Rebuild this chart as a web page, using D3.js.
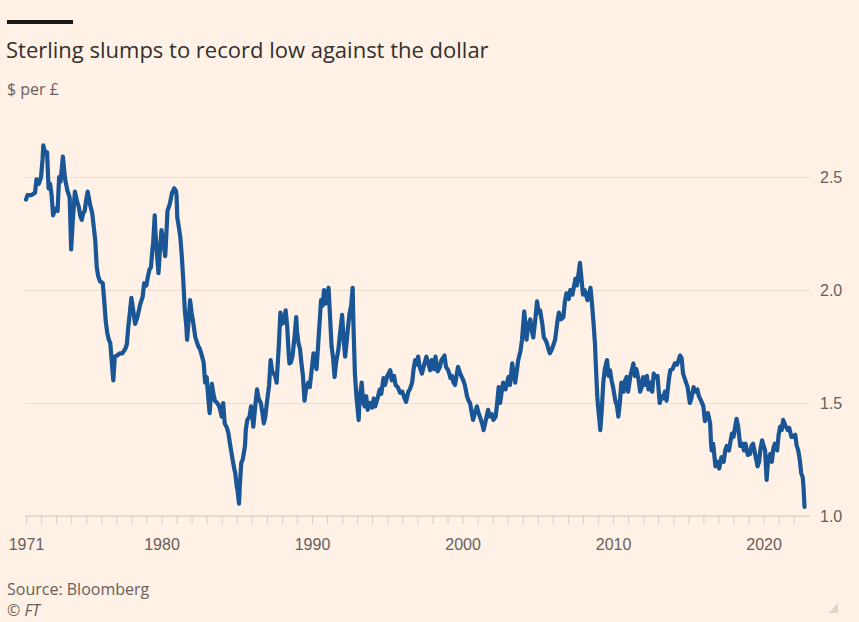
<!DOCTYPE html>
<html lang="en">
<head>
<meta charset="UTF-8">
<title>Sterling slumps to record low against the dollar</title>
<script src="https://cdnjs.cloudflare.com/ajax/libs/d3/7.8.5/d3.min.js"></script>
<style>
  html, body { margin: 0; padding: 0; background: #fff1e5; }
  svg { display: block; font-family: "Open Sans", "Noto Sans", sans-serif; }
  .tick-label { fill: #66605c; font-size: 16px; }
  .grid line { stroke: #eadccf; stroke-width: 1px; }
</style>
</head>
<body>
<svg id="chart" width="859" height="622"></svg>
<script>
// $ per £: [decimal year, rate]
const rates1970s = [
  [1971.0,2.40],[1971.1,2.42],[1971.35,2.42],[1971.6,2.43],[1971.7,2.49],[1971.85,2.47],[1972.0,2.50],
  [1972.1,2.58],[1972.15,2.64],[1972.3,2.60],[1972.4,2.61],[1972.5,2.45],[1972.6,2.47],[1972.7,2.42],
  [1972.8,2.33],[1972.95,2.36],[1973.1,2.35],[1973.2,2.50],[1973.3,2.48],[1973.45,2.59],[1973.55,2.52],
  [1973.6,2.49],[1973.75,2.44],[1973.9,2.41],[1974.0,2.18],[1974.1,2.30],[1974.25,2.435],[1974.4,2.39],
  [1974.5,2.37],[1974.6,2.33],[1974.7,2.31],[1974.8,2.34],[1974.9,2.35],[1975.0,2.40],[1975.1,2.435],
  [1975.25,2.38],[1975.4,2.34],[1975.5,2.28],[1975.6,2.22],[1975.7,2.10],[1975.8,2.06],[1975.9,2.04],
  [1976.1,2.03],[1976.2,1.95],[1976.3,1.86],[1976.4,1.81],[1976.5,1.78],[1976.6,1.765],[1976.7,1.68],
  [1976.8,1.60],[1976.9,1.705],[1977.05,1.71],[1977.25,1.72],[1977.4,1.72],[1977.6,1.74],[1977.7,1.76],
  [1977.8,1.84],[1977.9,1.90],[1978.0,1.965],[1978.1,1.92],[1978.25,1.85],[1978.4,1.88],[1978.6,1.94],
  [1978.75,1.97],[1978.85,2.03],[1979.0,2.02],[1979.1,2.06],[1979.2,2.09],[1979.3,2.10],[1979.4,2.18],
  [1979.45,2.21],[1979.55,2.33],[1979.6,2.25],[1979.7,2.16],[1979.8,2.075],[1979.9,2.18],[1980.0,2.265],
  [1980.1,2.22],[1980.25,2.15],[1980.35,2.28],[1980.4,2.35],[1980.55,2.38],[1980.7,2.43],[1980.85,2.45],
  [1980.95,2.44]
];
const rates1980s = [
  [1981.0,2.42],[1981.05,2.32],[1981.15,2.28],[1981.25,2.235],[1981.35,2.15],[1981.45,2.04],[1981.55,1.91],
  [1981.65,1.84],[1981.7,1.78],[1981.8,1.86],[1981.9,1.955],[1982.0,1.90],[1982.1,1.86],[1982.25,1.79],
  [1982.35,1.77],[1982.45,1.75],[1982.55,1.74],[1982.7,1.705],[1982.8,1.68],[1982.9,1.59],[1983.0,1.615],
  [1983.1,1.53],[1983.2,1.455],[1983.3,1.55],[1983.35,1.585],[1983.45,1.54],[1983.55,1.51],[1983.7,1.50],
  [1983.8,1.49],[1983.9,1.47],[1984.0,1.44],[1984.1,1.50],[1984.2,1.41],[1984.35,1.39],[1984.45,1.365],
  [1984.55,1.32],[1984.65,1.28],[1984.8,1.22],[1984.9,1.19],[1985.0,1.13],[1985.05,1.115],[1985.15,1.055],
  [1985.2,1.13],[1985.3,1.235],[1985.4,1.25],[1985.55,1.31],[1985.6,1.38],[1985.7,1.425],[1985.85,1.44],
  [1985.95,1.485],[1986.05,1.43],[1986.1,1.395],[1986.25,1.50],[1986.35,1.56],[1986.45,1.52],[1986.6,1.50],
  [1986.7,1.46],[1986.8,1.41],[1986.9,1.44],[1987.0,1.50],[1987.15,1.58],[1987.25,1.69],[1987.35,1.64],
  [1987.45,1.63],[1987.55,1.62],[1987.65,1.59],[1987.8,1.76],[1987.9,1.90],[1988.0,1.85],[1988.1,1.855],
  [1988.25,1.91],[1988.35,1.84],[1988.45,1.72],[1988.5,1.675],[1988.6,1.68],[1988.7,1.705],[1988.85,1.80],
  [1988.95,1.88],[1989.0,1.82],[1989.1,1.765],[1989.2,1.74],[1989.3,1.675],[1989.4,1.62],[1989.5,1.51],
  [1989.6,1.56],[1989.75,1.59],[1989.85,1.57],[1989.95,1.63],[1990.1,1.72],[1990.2,1.68],[1990.3,1.65],
  [1990.45,1.80],[1990.6,1.955],[1990.7,1.93],[1990.8,2.00],[1990.9,1.94],[1991.0,1.97],[1991.1,2.01]
];
const rates1990s = [
  [1991.2,1.88],[1991.3,1.75],[1991.4,1.70],[1991.5,1.615],[1991.6,1.68],[1991.75,1.735],[1991.85,1.80],
  [1992.0,1.89],[1992.1,1.78],[1992.2,1.705],[1992.3,1.77],[1992.4,1.84],[1992.5,1.90],[1992.6,1.93],
  [1992.7,2.01],[1992.75,1.85],[1992.85,1.63],[1992.95,1.53],[1993.1,1.425],[1993.15,1.51],[1993.3,1.59],
  [1993.4,1.50],[1993.5,1.485],[1993.6,1.53],[1993.7,1.47],[1993.85,1.50],[1994.0,1.48],[1994.1,1.52],
  [1994.2,1.485],[1994.35,1.52],[1994.5,1.56],[1994.6,1.54],[1994.75,1.61],[1994.85,1.58],[1995.0,1.62],
  [1995.2,1.645],[1995.3,1.60],[1995.45,1.62],[1995.55,1.58],[1995.7,1.57],[1995.85,1.545],[1996.0,1.55],
  [1996.15,1.52],[1996.25,1.505],[1996.4,1.55],[1996.5,1.56],[1996.65,1.59],[1996.75,1.65],[1996.85,1.69],
  [1996.95,1.67],[1997.05,1.705],[1997.15,1.66],[1997.3,1.63],[1997.45,1.67],[1997.6,1.705],[1997.7,1.68],
  [1997.85,1.645],[1997.95,1.69],[1998.1,1.65],[1998.2,1.705],[1998.35,1.64],[1998.5,1.66],[1998.6,1.69],
  [1998.8,1.71],[1998.9,1.66],[1999.05,1.645],[1999.2,1.61],[1999.3,1.62],[1999.4,1.59],[1999.5,1.58],
  [1999.6,1.62],[1999.7,1.66],[1999.85,1.63],[2000.05,1.60],[2000.15,1.58],[2000.3,1.53],[2000.4,1.51],
  [2000.5,1.50]
];
const rates2000s = [
  [2000.6,1.46],[2000.7,1.425],[2000.8,1.45],[2000.95,1.485],[2001.05,1.46],[2001.15,1.44],[2001.3,1.41],
  [2001.4,1.38],[2001.5,1.41],[2001.6,1.44],[2001.7,1.47],[2001.8,1.44],[2001.95,1.45],[2002.05,1.425],
  [2002.2,1.44],[2002.3,1.50],[2002.4,1.57],[2002.5,1.50],[2002.6,1.55],[2002.7,1.59],[2002.85,1.56],
  [2003.05,1.615],[2003.15,1.58],[2003.3,1.675],[2003.4,1.62],[2003.5,1.59],[2003.6,1.64],[2003.7,1.69],
  [2003.85,1.73],[2003.95,1.78],[2004.1,1.905],[2004.2,1.83],[2004.25,1.78],[2004.35,1.84],[2004.5,1.87],
  [2004.6,1.82],[2004.7,1.79],[2004.85,1.88],[2004.95,1.95],[2005.05,1.90],[2005.15,1.91],[2005.3,1.85],
  [2005.4,1.79],[2005.5,1.78],[2005.6,1.765],[2005.7,1.74],[2005.8,1.72],[2005.95,1.74],[2006.15,1.78],
  [2006.3,1.86],[2006.4,1.90],[2006.55,1.87],[2006.7,1.88],[2006.8,1.95],[2006.9,1.985],[2007.05,1.96],
  [2007.15,2.00],[2007.3,1.98],[2007.5,2.05],[2007.6,2.02],[2007.7,2.07],[2007.8,2.12],[2007.9,2.05],
  [2008.0,1.98],[2008.1,2.00],[2008.2,1.98],[2008.3,1.955],[2008.4,1.98],[2008.5,2.01],[2008.6,1.94],
  [2008.7,1.855],[2008.8,1.76],[2008.85,1.675],[2008.95,1.53],[2009.0,1.485],[2009.1,1.42],[2009.15,1.38],
  [2009.25,1.47],[2009.35,1.59],[2009.45,1.65],[2009.6,1.69],[2009.7,1.62],[2009.8,1.645],[2009.9,1.60]
];
const rates2010s = [
  [2010.0,1.57],[2010.15,1.51],[2010.25,1.49],[2010.35,1.44],[2010.45,1.50],[2010.55,1.59],[2010.7,1.55],
  [2010.8,1.60],[2010.9,1.615],[2011.0,1.55],[2011.15,1.62],[2011.35,1.675],[2011.45,1.62],[2011.55,1.65],
  [2011.7,1.60],[2011.8,1.55],[2011.9,1.57],[2012.0,1.615],[2012.1,1.58],[2012.25,1.62],[2012.35,1.56],
  [2012.45,1.59],[2012.6,1.55],[2012.7,1.63],[2012.8,1.615],[2012.95,1.62],[2013.1,1.50],[2013.2,1.53],
  [2013.3,1.52],[2013.45,1.55],[2013.55,1.51],[2013.7,1.60],[2013.8,1.645],[2013.95,1.65],[2014.1,1.675],
  [2014.25,1.67],[2014.45,1.71],[2014.55,1.70],[2014.65,1.63],[2014.8,1.60],[2014.95,1.57],[2015.1,1.50],
  [2015.2,1.52],[2015.35,1.57],[2015.45,1.55],[2015.6,1.56],[2015.7,1.53],[2015.85,1.51],[2016.0,1.485],
  [2016.1,1.42],[2016.2,1.44],[2016.3,1.455],[2016.45,1.41],[2016.5,1.33],[2016.55,1.29],[2016.65,1.32],
  [2016.8,1.22],[2016.95,1.24],[2017.05,1.21],[2017.2,1.26],[2017.35,1.24],[2017.45,1.29],[2017.55,1.31],
  [2017.7,1.29],[2017.8,1.33],[2017.9,1.365],[2018.0,1.35],[2018.1,1.39],[2018.2,1.43],[2018.3,1.40],
  [2018.45,1.31],[2018.6,1.32],[2018.7,1.29],[2018.8,1.32],[2018.95,1.27],[2019.1,1.275],[2019.2,1.31],
  [2019.3,1.32],[2019.45,1.27],[2019.6,1.22],[2019.7,1.24],[2019.8,1.30],[2019.9,1.335],[2020.0,1.31],
  [2020.1,1.29],[2020.2,1.16],[2020.3,1.25]
];
const rates2020s = [
  [2020.45,1.275],[2020.55,1.24],[2020.65,1.30],[2020.75,1.32],[2020.9,1.29],[2021.0,1.36],[2021.1,1.395],
  [2021.2,1.38],[2021.3,1.425],[2021.45,1.40],[2021.6,1.38],[2021.7,1.39],[2021.85,1.35],[2021.95,1.35],
  [2022.1,1.36],[2022.2,1.31],[2022.3,1.29],[2022.4,1.25],[2022.5,1.19],[2022.6,1.17],[2022.65,1.13],
  [2022.72,1.04]
];
const yTicks = [1.0, 1.5, 2.0, 2.5];
const xLabels = [1971, 1980, 1990, 2000, 2010, 2020];

const title = "Sterling slumps to record low against the dollar";
const subtitle = "$ per £";
const source = "Source: Bloomberg";

const data = [].concat(rates1970s, rates1980s, rates1990s, rates2000s, rates2010s, rates2020s)
  .map(d => ({ yr: d[0], v: d[1] }));

const svg = d3.select("#chart");
const W = 859, H = 622;

svg.append("rect").attr("width", W).attr("height", H).attr("fill", "#fff1e5");

// header
svg.append("rect").attr("x", 7).attr("y", 20).attr("width", 66).attr("height", 4).attr("fill", "#1a1817");
svg.append("text").attr("x", 6).attr("y", 58)
  .attr("fill", "#33302e").style("font-size", "22px")
  .text(title);
svg.append("text").attr("x", 7).attr("y", 95)
  .attr("fill", "#66605c").style("font-size", "16px")
  .text(subtitle);

const x = d3.scaleLinear().domain([1971, 2022.75]).range([26, 805]);
const y = d3.scaleLinear().domain([1, 2.5]).range([516, 177]);

// horizontal grid + right labels
const yAxis = d3.axisRight(y).tickValues(yTicks).tickFormat(d3.format(".1f"))
  .tickSize(-(x.range()[1] - x.range()[0] + 6)).tickPadding(10);
const gy = svg.append("g").attr("class", "grid").attr("transform", `translate(${x.range()[1] + 5},0)`).call(yAxis);
gy.select(".domain").remove();
gy.selectAll("text").attr("class", "tick-label").attr("fill", null);

// x axis: yearly ticks
const yearTicks = d3.range(1971, 2023);
const xAxis = d3.axisBottom(x).tickValues(yearTicks).tickSize(8).tickFormat("");
const gx = svg.append("g").attr("transform", `translate(0,${y(1)})`).call(xAxis);
gx.select(".domain").attr("stroke", "#d9cbbe").attr("d", `M${x.range()[0]},0H${x.range()[1] + 5}`);
gx.selectAll(".tick line").attr("stroke", "#d9cbbe");

const xl = d3.axisBottom(x).tickValues(xLabels).tickSize(0).tickPadding(23).tickFormat(d3.format("d"));
const gxl = svg.append("g").attr("transform", `translate(0,${y(1)})`).call(xl);
gxl.select(".domain").remove();
gxl.selectAll("text").attr("class", "tick-label").attr("fill", null);

// line
const line = d3.line().x(d => x(d.yr)).y(d => y(d.v)).curve(d3.curveLinear);
svg.append("path").datum(data)
  .attr("fill", "none").attr("stroke", "#1a5596")
  .attr("stroke-width", 4.2).attr("stroke-linejoin", "round").attr("stroke-linecap", "round")
  .attr("d", line);

// footer
svg.append("text").attr("x", 7).attr("y", 595)
  .attr("fill", "#66605c").style("font-size", "16px").text(source);
svg.append("text").attr("x", 7).attr("y", 616)
  .attr("fill", "#66605c").style("font-size", "16px").style("font-style", "italic").text("© FT");

svg.append("path").attr("d", "M838,603L838,613L828,613Z").attr("fill", "#e3d5c9");
</script>
</body>
</html>
